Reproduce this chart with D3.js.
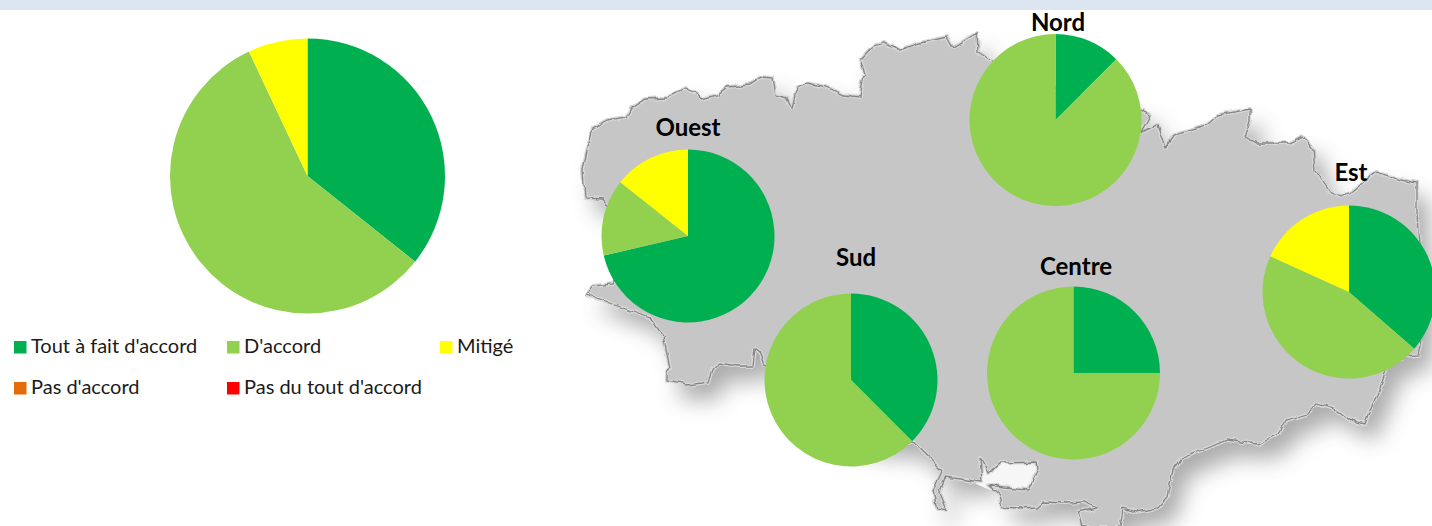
<!DOCTYPE html>
<html><head><meta charset="utf-8">
<style>html,body{margin:0;padding:0;background:#fff;overflow:hidden}svg{display:block}text{font-family:Lato,"Open Sans",sans-serif}</style>
<script src="https://cdn.jsdelivr.net/npm/d3@7"></script></head><body>
<svg id="c" width="1432" height="526"></svg>
<script>
const categories=["Tout à fait d'accord","D'accord","Mitigé","Pas d'accord","Pas du tout d'accord"];
const colors=["#00B050","#92D050","#FFFF00","#E36C09","#FF0000"];
const overall=[35.7,57.3,7,0,0];
const ouest=[71.4,14.3,14.3,0,0];
const nord=[12.5,87.5,0,0,0];
const sud=[37.5,62.5,0,0,0];
const centre=[25,75,0,0,0];
const est=[36.4,45.4,18.2,0,0];
// Decorative silhouette of the map
const coast=[[585,198],[583,170],[588,147],[593,128],[607,120],[627,117],[633,107],[645,99],[667,98],[685,89],[697,93],[702,99],[717,95],[727,87],[750,85],[762,77],[772,78],[775,95],[787,98],[792,108],[797,87],[807,83],[827,87],[843,95],[860,97],[863,80],[865,72],[860,60],[872,47],[883,43],[900,50],[920,43],[947,37],[953,48],[977,33],[978,53],[989,60],[1060,90],[1143,110],[1150,117],[1142,132],[1157,125],[1165,148],[1173,137],[1182,132],[1207,125],[1218,115],[1250,109],[1250,120],[1245,137],[1257,143],[1290,143],[1303,136],[1313,150],[1315,170],[1330,192],[1340,197],[1353,192],[1367,180],[1377,172],[1400,180],[1417,183],[1417,213],[1418,233],[1425,300],[1420,347],[1418,355],[1403,356],[1388,365],[1380,388],[1370,410],[1365,424],[1350,420],[1337,410],[1317,404],[1307,414],[1287,420],[1278,434],[1257,444],[1227,440],[1203,450],[1180,459],[1173,470],[1167,497],[1157,508],[1137,512],[1123,508],[1120,527],[1082,527],[1078,512],[1097,508],[1083,502],[1067,503],[1043,502],[1037,507],[1017,508],[1003,507],[1000,495],[988,485],[1003,488],[1028,490],[1038,470],[1037,462],[1000,463],[988,473],[980,458],[982,482],[945,477],[940,493],[947,510],[937,508],[933,492],[942,470],[935,463],[913,442],[860,440],[765,365],[760,352],[755,348],[753,366],[738,366],[720,363],[713,368],[708,382],[687,385],[667,381],[667,373],[670,368],[663,335],[650,318],[623,308],[603,300],[587,295],[593,286],[613,284],[640,250],[603,199]];
const gulf=[[978,456],[1040,458],[1042,472],[1030,494],[990,490],[976,484]];
const pies=[
 {label:"",v:overall,cx:307.5,cy:176,r:137.5},
 {label:"Ouest",v:ouest,cx:688,cy:236,r:86.5,lx:688,ly:136},
 {label:"Nord",v:nord,cx:1055.5,cy:120,r:86,lx:1058,ly:31},
 {label:"Sud",v:sud,cx:851,cy:380,r:86.5,lx:856,ly:266},
 {label:"Centre",v:centre,cx:1073.5,cy:373,r:86.5,lx:1076,ly:275},
 {label:"Est",v:est,cx:1349,cy:292,r:86.5,lx:1351,ly:181}
];
const svg=d3.select("#c");
svg.append("rect").attr("width",1432).attr("height",10).attr("fill","#DCE6F1");
const defs=svg.append("defs");
const f=defs.append("filter").attr("id","rough").attr("x","-5%").attr("y","-5%").attr("width","115%").attr("height","115%");
f.append("feTurbulence").attr("type","fractalNoise").attr("baseFrequency",0.09).attr("numOctaves",2).attr("seed",4).attr("result","n");
f.append("feDisplacementMap").attr("in","SourceGraphic").attr("in2","n").attr("scale",6).attr("xChannelSelector","R").attr("yChannelSelector","G").attr("result","d");
f.append("feGaussianBlur").attr("in","d").attr("stdDeviation",0.7);
const s=defs.append("filter").attr("id","shadow").attr("x","-5%").attr("y","-5%").attr("width","115%").attr("height","115%");
s.append("feGaussianBlur").attr("stdDeviation",11);
const line=d3.line().curve(d3.curveLinear);
svg.append("path").attr("d",line(coast)+"Z").attr("transform","translate(12,16)").attr("fill","#8c8c8c").attr("opacity",.72).attr("filter","url(#shadow)");
svg.append("path").attr("d",line(gulf)+"Z").attr("fill","#f6f6f6");
const map=svg.append("g").attr("filter","url(#rough)");
map.append("path").attr("d",line(coast)+"Z").attr("fill","#c6c6c6").attr("stroke","#d8d8d8").attr("stroke-width",4).attr("stroke-linejoin","round");
map.append("path").attr("d",line(coast)+"Z").attr("fill","none").attr("stroke","#858585").attr("stroke-width",1.3);
const pie=d3.pie().sort(null).value(d=>d);
pies.forEach(p=>{
  const g=svg.append("g").attr("transform",`translate(${p.cx},${p.cy})`);
  const arc=d3.arc().innerRadius(0).outerRadius(p.r);
  g.selectAll("path").data(pie(p.v)).join("path").attr("d",arc).attr("fill",(d,i)=>colors[i]);
  if(p.label) svg.append("text").attr("x",p.lx).attr("y",p.ly).attr("text-anchor","middle").attr("font-size",24).attr("font-weight",700).attr("fill","#000").text(p.label);
});
const legendCols=[14,227,440], legendRows=[341,382];
categories.forEach((c,i)=>{
  const x=legendCols[i%3], y=legendRows[Math.floor(i/3)];
  svg.append("rect").attr("x",x).attr("y",y).attr("width",12.5).attr("height",12.5).attr("fill",colors[i]);
  svg.append("text").attr("x",x+17).attr("y",y+12).attr("font-size",20).attr("fill","#1a1a1a").text(c);
});
</script></body></html>
